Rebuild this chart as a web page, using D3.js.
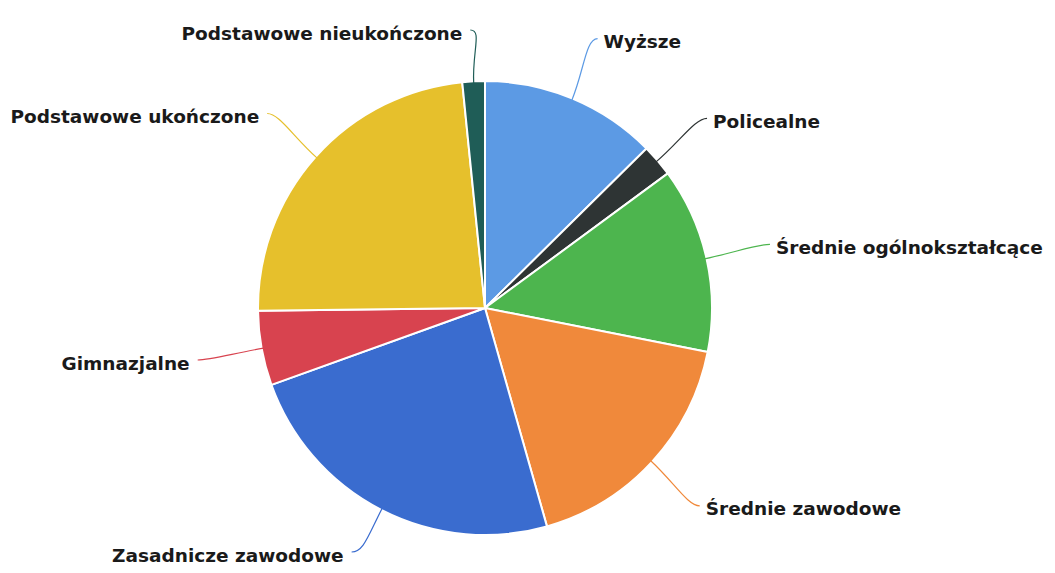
<!DOCTYPE html>
<html>
<head>
<meta charset="utf-8">
<script src="https://cdn.jsdelivr.net/npm/d3@7"></script>
<style>
  body { margin: 0; background: #fff; }
  text { font-family: "DejaVu Sans", sans-serif; font-weight: bold; fill: #1a1a1a; }
</style>
</head>
<body>
<div id="chart"></div>
<script>
// education level shares (%)
const categories = ["Wyższe", "Policealne", "Średnie ogólnokształcące", "Średnie zawodowe",
  "Zasadnicze zawodowe", "Gimnazjalne", "Podstawowe ukończone", "Podstawowe nieukończone"];
const values = [12.6, 2.3, 13.2, 17.5, 23.9, 5.3, 23.6, 1.6];
const colors = ["#5c9ae4", "#2e3434", "#4db54e", "#f0893b", "#3a6ccf", "#d8434f", "#e6c02c", "#1f5d57"];

const width = 1055, height = 573;
const cx = 485, cy = 308, radius = 227, labelRadius = 292;

const svg = d3.select("#chart").append("svg")
  .attr("width", width).attr("height", height);

const g = svg.append("g").attr("transform", `translate(${cx},${cy})`);

const data = categories.map((c, i) => ({ name: c, value: values[i], color: colors[i] }));

const pie = d3.pie().value(d => d.value).sort(null);
const arcs = pie(data);

const arc = d3.arc().innerRadius(0).outerRadius(radius);

g.selectAll("path.slice")
  .data(arcs)
  .enter().append("path")
  .attr("class", "slice")
  .attr("d", arc)
  .attr("fill", d => d.data.color)
  .attr("stroke", "#fff")
  .attr("stroke-width", 2)
  .attr("stroke-linejoin", "round");

function polar(r, a) {
  return [r * Math.sin(a), -r * Math.cos(a)];
}

// label anchor, kept inside the canvas vertically
function anchor(d) {
  const a = (d.startAngle + d.endAngle) / 2;
  const p = polar(labelRadius, a);
  p[1] = Math.max(30 - cy, Math.min(552 - cy, p[1]));
  return p;
}

// connectors
g.selectAll("path.link")
  .data(arcs)
  .enter().append("path")
  .attr("class", "link")
  .attr("fill", "none")
  .attr("stroke", d => d.data.color)
  .attr("stroke-width", 1.2)
  .attr("d", d => {
    const a = (d.startAngle + d.endAngle) / 2;
    const p0 = polar(radius - 2, a);
    const p1 = polar(radius + 30, a);
    const p3 = anchor(d);
    const side = Math.sin(a) >= 0 ? 1 : -1;
    const p2 = [p3[0] - side * 12, p3[1]];
    return `M${p0}C${p1} ${p2} ${p3}`;
  });

// labels
g.selectAll("text.label")
  .data(arcs)
  .enter().append("text")
  .attr("class", "label")
  .attr("font-size", 18.5)
  .attr("dominant-baseline", "central")
  .attr("text-anchor", d => Math.sin((d.startAngle + d.endAngle) / 2) >= 0 ? "start" : "end")
  .attr("x", d => anchor(d)[0] + (Math.sin((d.startAngle + d.endAngle) / 2) >= 0 ? 6 : -8))
  .attr("y", d => anchor(d)[1] + 3)
  .text(d => d.data.name);
</script>
</body>
</html>
